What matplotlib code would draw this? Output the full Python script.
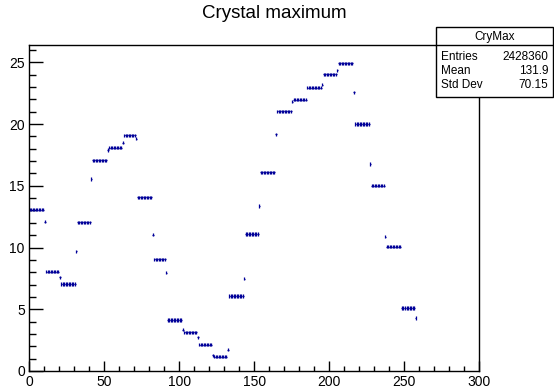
import matplotlib.pyplot as plt
import numpy as np
from matplotlib.lines import Line2D
from matplotlib.patches import Rectangle
from matplotlib.ticker import MultipleLocator

plt.rcParams["font.family"] = ["Liberation Sans", "DejaVu Sans"]

title = "Crystal maximum"
hist_name = "CryMax"
stat_labels = ["Entries", "Mean", "Std Dev"]
stat_values = ["2428360", "131.9", "70.15"]

x_range = (0, 300)
y_range = (0, 26.4)

# profile mean per bin (bin width 1, starting at 0); bins after 257 are empty
bin_means = (
    [13.05] * 10
    + [12.1] + [8.05] * 9
    + [7.6] + [7.05] * 10
    + [9.7] + [12.05] * 9
    + [15.55] + [17.06] * 10
    + [17.9] + [18.08] * 9
    + [18.5] + [19.08] * 8 + [18.8]
    + [14.08] * 10
    + [11.03] + [9.06] * 8
    + [7.95] + [4.13] * 10
    + [3.33] + [3.14] * 9
    + [2.72] + [2.14] * 9
    + [1.28] + [1.15] * 9
    + [1.73] + [6.08] * 10
    + [7.49] + [11.1] * 9
    + [13.37] + [16.08] * 10
    + [19.18] + [21.03] * 10
    + [21.8] + [21.98] * 9
    + [22.95] * 10 + [23.2]
    + [24.03] * 9 + [24.35]
    + [24.92] * 10
    + [22.57] + [20.0] * 10
    + [16.76] + [15.0] * 9
    + [10.87] + [10.06] * 10
    + [5.1] * 9 + [4.3]
)
bin_errors = 0.13

color = "#000099"

fig = plt.figure(figsize=(5.54, 3.89), dpi=100)
ax = fig.add_axes([29 / 554, 18 / 389, 450.3 / 554, 326 / 389])

centers = np.arange(len(bin_means)) + 0.5
ax.errorbar(centers, bin_means, xerr=0.5, yerr=bin_errors, fmt="none",
            ecolor=color, elinewidth=0.9, capsize=0)

ax.set_xlim(*x_range)
ax.set_ylim(*y_range)
ax.xaxis.set_major_locator(MultipleLocator(50))
ax.xaxis.set_minor_locator(MultipleLocator(10))
ax.yaxis.set_major_locator(MultipleLocator(5))
ax.yaxis.set_minor_locator(MultipleLocator(1))
ax.tick_params(axis="both", which="both", direction="in", labelsize=10,
               top=False, right=False, width=1)
ax.tick_params(axis="y", which="major", length=10, pad=3)
ax.tick_params(axis="y", which="minor", length=5)
ax.tick_params(axis="x", which="major", length=7, pad=3)
ax.tick_params(axis="x", which="minor", length=3.6)
for sp in ax.spines.values():
    sp.set_linewidth(1)

fig.text(274 / 554, 1 - 14 / 389, title, ha="center", va="center", fontsize=13.5)

# stats box
bx0, bx1 = 436 / 554, 553 / 554
by_top, by_bot = 1 - 27.5 / 389, 1 - 97 / 389
fig.patches.append(Rectangle((bx0, by_bot), bx1 - bx0, by_top - by_bot,
                             transform=fig.transFigure, facecolor="white",
                             edgecolor="black", linewidth=1, zorder=5))
sep_y = 1 - 45 / 389
fig.lines.append(Line2D([bx0, bx1], [sep_y, sep_y], transform=fig.transFigure,
                        color="black", linewidth=1, zorder=6))
fig.text((bx0 + bx1) / 2, 1 - 37 / 389, hist_name, ha="center", va="center",
         fontsize=8.5, zorder=7)
for i, (lab, val) in enumerate(zip(stat_labels, stat_values)):
    yy = 1 - (56.5 + 14.5 * i) / 389
    fig.text(441 / 554, yy, lab, ha="left", va="center", fontsize=8.5, zorder=7)
    fig.text(548.5 / 554, yy, val, ha="right", va="center", fontsize=8.5, zorder=7)

fig.savefig("out.png", dpi=100)
